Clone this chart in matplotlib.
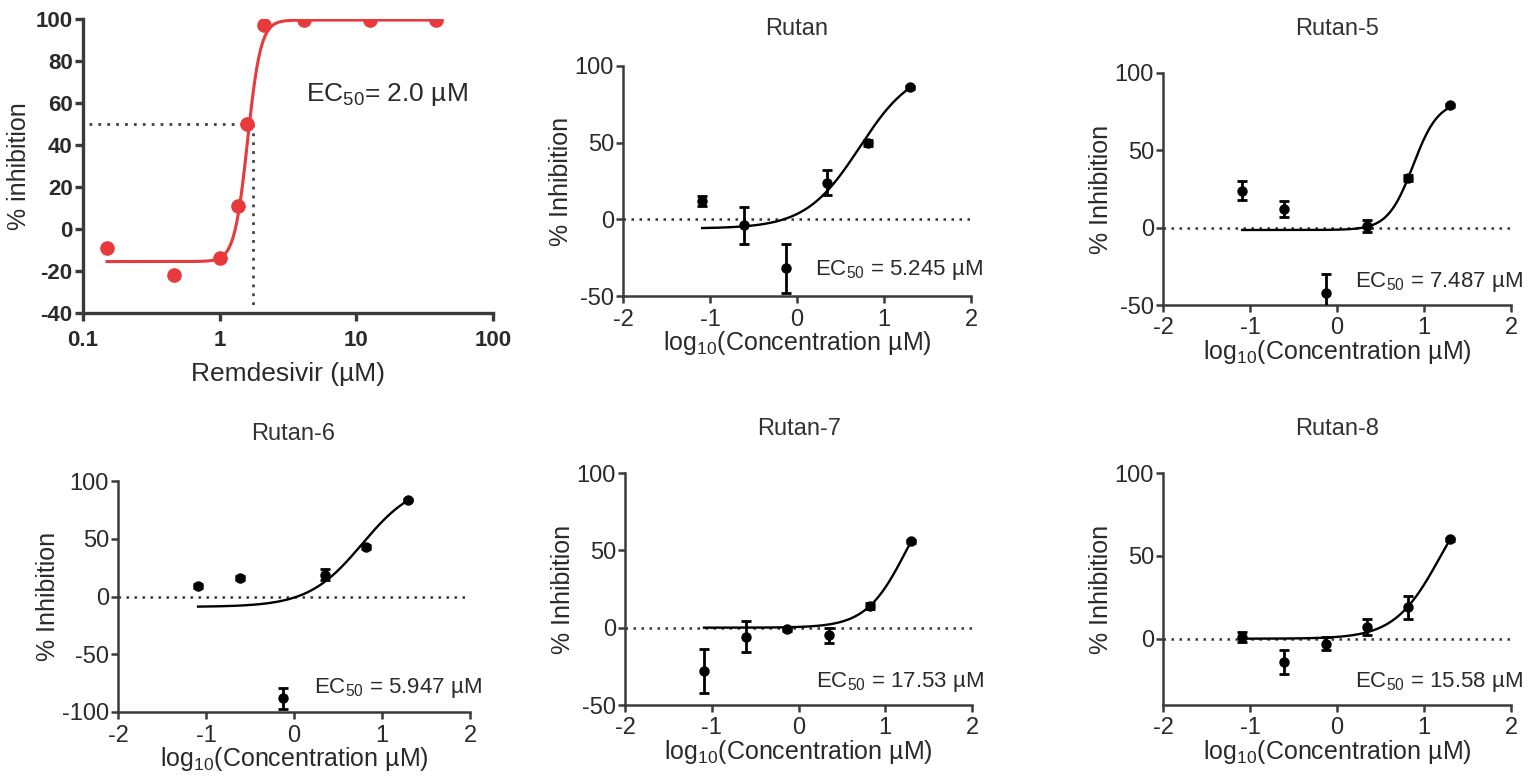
import matplotlib
matplotlib.use("Agg")
import matplotlib.pyplot as plt
import numpy as np

plt.rcParams["font.family"] = ["Liberation Sans", "DejaVu Sans"]
plt.rcParams["mathtext.fontset"] = "custom"
plt.rcParams["mathtext.rm"] = "Liberation Sans"
plt.rcParams["mathtext.default"] = "regular"
plt.rcParams["axes.unicode_minus"] = False

# ---- Remdesivir (top-left) ----
remdesivir_conc = [0.15, 0.46, 1.0, 1.37, 1.59, 2.12, 4.17, 12.6, 38.0]
remdesivir_inhib = [-9, -22, -14, 11, 50, 97, 99.5, 99.5, 99.5]
remdesivir_fit = dict(bottom=-15.5, top=99.5, log_ec50=np.log10(1.6), hill=9.0)
remdesivir_ec50_guide = 1.75
remdesivir_label = "EC$_{50}$= 2.0 µM"

# ---- Rutan series (log10 concentration, µM) ----
log_conc = [-1.09, -0.61, -0.13, 0.35, 0.82, 1.30]

names = ["Rutan", "Rutan-5", "Rutan-6", "Rutan-7", "Rutan-8"]
means = {
    "Rutan":   [12, -4, -32, 24, 50, 86],
    "Rutan-5": [24, 12, -42, 1, 32, 79],
    "Rutan-6": [9, 16, -88, 19, 43, 83.5],
    "Rutan-7": [-28, -6, -1, -5, 14, 56],
    "Rutan-8": [1, -14, -3, 7, 19, 60],
}
errors = {
    "Rutan":   [3, 12, 16, 8, 2, 1],
    "Rutan-5": [6, 5, 12, 4, 2, 1],
    "Rutan-6": [2, 2, 9, 5, 2, 1],
    "Rutan-7": [14, 10, 1, 5, 2, 1],
    "Rutan-8": [3, 7, 4, 5, 7, 1],
}
fits = {
    "Rutan":   dict(bottom=-6, top=100, log_ec50=np.log10(5.245), hill=1.4),
    "Rutan-5": dict(bottom=-1.5, top=82, log_ec50=np.log10(7.487), hill=3.0),
    "Rutan-6": dict(bottom=-9, top=100, log_ec50=np.log10(5.947), hill=1.42),
    "Rutan-7": dict(bottom=0, top=100, log_ec50=np.log10(17.53), hill=1.87),
    "Rutan-8": dict(bottom=0, top=100, log_ec50=np.log10(15.58), hill=1.64),
}
ec50_labels = {
    "Rutan":   "EC$_{50}$ = 5.245 µM",
    "Rutan-5": "EC$_{50}$ = 7.487 µM",
    "Rutan-6": "EC$_{50}$ = 5.947 µM",
    "Rutan-7": "EC$_{50}$ = 17.53 µM",
    "Rutan-8": "EC$_{50}$ = 15.58 µM",
}
ylims = {
    "Rutan": (-50, 100), "Rutan-5": (-50, 100), "Rutan-6": (-100, 100),
    "Rutan-7": (-50, 100), "Rutan-8": (-40, 100),
}
yticks = {
    "Rutan": [-50, 0, 50, 100], "Rutan-5": [-50, 0, 50, 100],
    "Rutan-6": [-100, -50, 0, 50, 100], "Rutan-7": [-50, 0, 50, 100],
    "Rutan-8": [0, 50, 100],
}
label_y = {"Rutan": -33, "Rutan-5": -35, "Rutan-6": -79, "Rutan-7": -35, "Rutan-8": -26}

W, H = 1535, 784
RED = "#E8393C"
INK = "#2a2a2a"

# panel boxes in pixels: left, right, top, bottom ; title centre in pixels
boxes = {
    "Rutan":   (623, 971, 66, 296),
    "Rutan-5": (1163, 1511, 73, 305),
    "Rutan-6": (118, 470, 481, 712),
    "Rutan-7": (625, 972, 473, 705),
    "Rutan-8": (1163, 1511, 473, 705),
}
title_pos = {
    "Rutan": (797, 29), "Rutan-5": (1337, 29), "Rutan-6": (293, 434),
    "Rutan-7": (799, 429), "Rutan-8": (1337, 429),
}


def four_pl(x, bottom, top, log_ec50, hill):
    return bottom + (top - bottom) / (1 + 10 ** ((log_ec50 - x) * hill))


def px_axes(fig, left, right, top, bottom):
    return fig.add_axes([left / W, 1 - bottom / H, (right - left) / W, (bottom - top) / H])


def style(ax, lw=1.8):
    for side in ("top", "right"):
        ax.spines[side].set_visible(False)
    for side in ("left", "bottom"):
        ax.spines[side].set_linewidth(lw)
        ax.spines[side].set_color("#3a3a3a")
    ax.tick_params(direction="out", length=5, width=lw, colors="#3a3a3a",
                   labelcolor=INK, labelsize=17, pad=1.5)
    ax.tick_params(axis="x", pad=4)
    ax.minorticks_off()


fig = plt.figure(figsize=(W / 100, H / 100), dpi=100)

# ---- Panel 1: Remdesivir ----
ax = px_axes(fig, 83, 493, 19, 313)
xs = np.logspace(np.log10(remdesivir_conc[0]), np.log10(remdesivir_conc[-1]), 400)
ax.plot(xs, four_pl(np.log10(xs), **remdesivir_fit), color=RED, lw=2.2, zorder=2)
ax.plot(remdesivir_conc, remdesivir_inhib, "o", color=RED, ms=9.5, zorder=3)
ax.plot([0.11, 1.8], [50, 50], ls=(0, (1, 2.2)), color="#444444", lw=2.0)
ax.plot([remdesivir_ec50_guide, remdesivir_ec50_guide], [50, -38], ls=(0, (1, 2.2)),
        color="#444444", lw=2.0)
ax.set_xscale("log")
ax.set_xlim(0.1, 100)
ax.set_ylim(-40, 100)
ax.set_yticks(np.arange(-40, 101, 20))
ax.set_xticks([0.1, 1, 10, 100])
ax.set_xticklabels(["0.1", "1", "10", "100"])
style(ax, lw=2.4)
ax.tick_params(labelsize=16, length=6)
ax.tick_params(axis="x", pad=6)
for t in ax.get_xticklabels() + ax.get_yticklabels():
    t.set_fontweight("bold")
ax.set_ylabel("% inhibition", fontsize=18, color=INK, labelpad=3)
ax.set_xlabel("Remdesivir (µM)", fontsize=19, color=INK, labelpad=8)
ax.text(4.3, 64, remdesivir_label, fontsize=19, color=INK, ha="left", va="center")

# ---- Rutan panels ----
for name in names:
    ax = px_axes(fig, *boxes[name])
    ax.axhline(0, ls=(0, (1, 2.2)), color="#333333", lw=1.8, zorder=1)
    xs = np.linspace(log_conc[0], log_conc[-1], 300)
    ax.plot(xs, four_pl(xs, **fits[name]), color="black", lw=1.7, zorder=2)
    ax.errorbar(log_conc, means[name], yerr=errors[name], fmt="o", color="black",
                ms=6.5, elinewidth=2.0, capsize=3.5, capthick=2.0, zorder=3)
    ax.set_xlim(-2, 2)
    ax.set_ylim(*ylims[name])
    ax.set_xticks([-2, -1, 0, 1, 2])
    ax.set_yticks(yticks[name])
    style(ax)
    tx, ty = title_pos[name]
    fig.text(tx / W, 1 - ty / H, name, fontsize=17, color="#333333",
             ha="center", va="center")
    ax.set_ylabel("% Inhibition", fontsize=18, color=INK, labelpad=1)
    ax.set_xlabel("log$_{10}$(Concentration µM)", fontsize=18, color=INK, labelpad=-1)
    ax.text(2.14, label_y[name], ec50_labels[name], fontsize=16, color=INK,
            ha="right", va="center")

fig.savefig("out.png", dpi=100)
